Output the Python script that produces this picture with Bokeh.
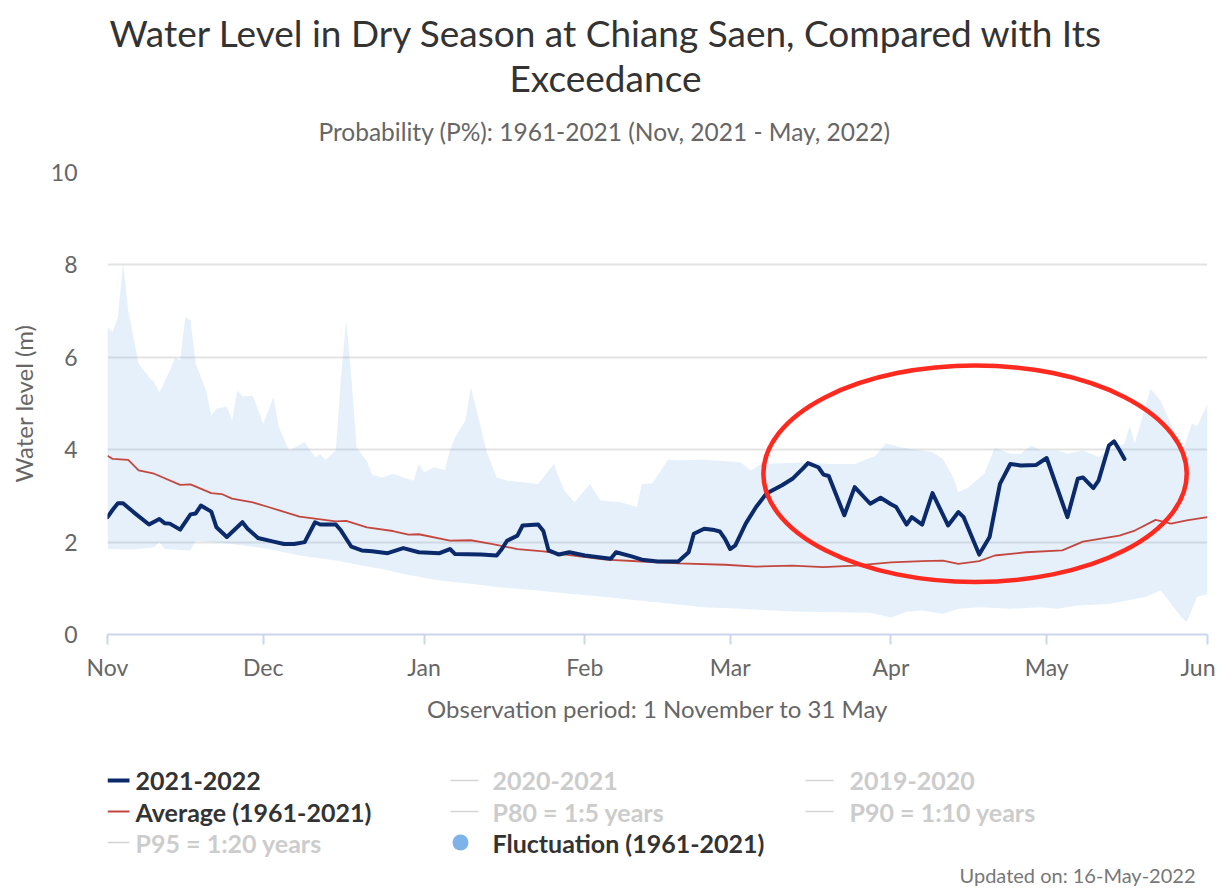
import pandas as pd
from bokeh.plotting import figure
from bokeh.models import Range1d, FixedTicker, DatetimeTickFormatter
from bokeh.layouts import column
from bokeh.core.properties import value
from bokeh.embed import file_html
from bokeh.resources import INLINE

# ---------------- data (days counted from 1 Nov 2021) ----------------
season_start = "2021-11-01"

obs_day = [0, 1, 2, 3, 5, 8, 10, 11, 12, 14, 16, 17, 18, 20, 21, 23, 26, 27, 29, 32,
           34, 36, 38, 40, 41, 44, 45, 47, 49, 51, 54, 57, 60, 64, 66, 67, 72, 75, 76, 77,
           79, 80, 83, 84, 85, 87, 89, 92, 97, 98, 101, 103, 106, 110, 112, 113, 115, 117, 118, 119,
           120, 121, 123, 125, 127, 130, 132, 134, 135, 137, 138, 139, 142, 144, 147, 149, 151, 152, 154, 155,
           157, 159, 162, 164, 165, 168, 170, 172, 174, 176, 179, 181, 185, 187, 188, 190, 191, 193, 194, 195,
           196]
obs_level = [2.54, 2.70, 2.84, 2.84, 2.65, 2.38, 2.50, 2.41, 2.40, 2.27, 2.60, 2.62, 2.79, 2.66, 2.32, 2.11, 2.43, 2.29, 2.09, 2.01,
             1.96, 1.96, 2.00, 2.43, 2.38, 2.38, 2.25, 1.90, 1.82, 1.80, 1.76, 1.87, 1.78, 1.76, 1.85, 1.74, 1.73, 1.71, 1.85, 2.03,
             2.14, 2.36, 2.38, 2.24, 1.82, 1.73, 1.78, 1.71, 1.64, 1.78, 1.69, 1.62, 1.58, 1.58, 1.78, 2.18, 2.29, 2.26, 2.23, 2.07,
             1.85, 1.93, 2.40, 2.76, 3.05, 3.23, 3.37, 3.59, 3.71, 3.62, 3.46, 3.43, 2.58, 3.19, 2.83, 2.96, 2.82, 2.76, 2.38, 2.54,
             2.38, 3.06, 2.36, 2.65, 2.54, 1.73, 2.11, 3.26, 3.69, 3.66, 3.67, 3.82, 2.54, 3.37, 3.40, 3.17, 3.33, 4.09, 4.18, 4.00,
             3.80]

avg_day = [0, 1, 4, 6, 9, 14, 16, 20, 22, 24, 28, 31, 37, 44, 46, 50, 55, 58, 60, 66,
           70, 74, 79, 84, 89, 96, 103, 110, 119, 125, 132, 138, 144, 151, 157, 161, 164, 168, 171, 177,
           184, 188, 195, 198, 202, 205, 208, 212]
avg_level = [3.87, 3.80, 3.78, 3.55, 3.48, 3.24, 3.25, 3.06, 3.04, 2.94, 2.86, 2.76, 2.55, 2.45, 2.46, 2.32, 2.24, 2.16, 2.17, 2.03,
             2.04, 1.96, 1.85, 1.80, 1.72, 1.62, 1.58, 1.54, 1.51, 1.47, 1.49, 1.46, 1.49, 1.56, 1.59, 1.60, 1.53, 1.59, 1.71, 1.78,
             1.82, 2.01, 2.14, 2.25, 2.48, 2.40, 2.47, 2.54]

fluct_max_day = [0, 1, 2, 3, 4, 6, 8, 9, 10, 12, 13, 14, 15, 16, 17, 19, 20, 21, 23, 24,
                 25, 26, 28, 30, 32, 33, 35, 38, 40, 41, 42, 44, 45, 46, 47, 48, 50, 51, 53, 55,
                 59, 60, 61, 63, 65, 66, 67, 69, 70, 71, 73, 75, 77, 83, 86, 88, 90, 93, 95, 99,
                 102, 103, 105, 108, 110, 115, 122, 124, 126, 135, 139, 144, 148, 150, 153, 157, 159, 161, 163, 164,
                 166, 169, 171, 174, 176, 178, 180, 183, 185, 188, 191, 193, 196, 197, 198, 201, 203, 206, 207, 209,
                 210, 212]
fluct_max = [6.65, 6.54, 6.87, 8.06, 7.01, 5.86, 5.57, 5.46, 5.24, 5.71, 6.00, 5.93, 6.87, 6.80, 5.86, 5.28, 4.74, 4.89, 4.93, 4.63,
             5.28, 5.15, 5.17, 4.56, 5.14, 4.49, 3.98, 4.16, 3.84, 3.90, 3.78, 3.98, 5.57, 6.80, 5.57, 4.05, 3.75, 3.45, 3.40, 3.48,
             3.33, 3.69, 3.51, 3.62, 3.55, 3.98, 4.27, 4.63, 5.35, 4.92, 3.98, 3.40, 3.33, 3.26, 3.69, 3.12, 2.86, 3.26, 2.90, 2.86,
             2.76, 3.26, 3.27, 3.78, 3.77, 3.78, 3.73, 3.55, 3.69, 3.73, 3.69, 3.69, 3.87, 4.14, 4.05, 3.98, 3.95, 3.80, 3.40, 3.08,
             3.19, 3.48, 4.05, 3.91, 3.91, 4.09, 3.98, 3.98, 3.91, 3.98, 3.84, 3.98, 4.13, 4.52, 4.13, 5.32, 5.06, 4.27, 3.91, 4.56,
             4.50, 4.99]

fluct_min_day = [0, 5, 9, 10, 11, 16, 17, 20, 24, 31, 37, 44, 50, 53, 57, 64, 70, 76, 83, 89,
                 96, 102, 109, 115, 122, 128, 134, 141, 147, 151, 154, 157, 161, 164, 168, 174, 180, 183, 187, 193,
                 200, 203, 205, 207, 208, 210, 212]
fluct_min = [1.85, 1.84, 1.89, 2.00, 1.85, 1.82, 2.03, 2.00, 1.96, 1.85, 1.71, 1.60, 1.47, 1.42, 1.31, 1.17, 1.10, 1.02, 0.95, 0.88,
             0.81, 0.74, 0.66, 0.59, 0.56, 0.52, 0.49, 0.48, 0.47, 0.37, 0.49, 0.52, 0.45, 0.56, 0.59, 0.56, 0.59, 0.56, 0.63, 0.66,
             0.81, 0.95, 0.66, 0.37, 0.27, 0.81, 0.88]

month_starts = ["2021-11-01", "2021-12-01", "2022-01-01", "2022-02-01", "2022-03-01",
                "2022-04-01", "2022-05-01", "2022-06-01"]
y_ticks = [0, 2, 4, 6, 8, 10]

title_lines = ["Water Level in Dry Season at Chiang Saen, Compared with Its", "Exceedance"]
subtitle = "Probability (P%): 1961-2021 (Nov, 2021 - May, 2022)"
x_title = "Observation period: 1 November to 31 May"
y_title = "Water level (m)"
updated_note = "Updated on: 16-May-2022"

legend_labels = ["2021-2022", "2020-2021", "2019-2020",
                 "Average (1961-2021)", "P80 = 1:5 years", "P90 = 1:10 years",
                 "P95 = 1:20 years", "Fluctuation (1961-2021)"]
legend_visible = [True, False, False, True, False, False, False, True]

# highlighted period (red ellipse): centre day, width in days, centre level, height in m
hl_center_day, hl_width_days, hl_center_level, hl_height = 167.2, 81.6, 3.48, 4.69

# ---------------- helpers ----------------
t0 = pd.Timestamp(season_start)
def to_dates(days):
    return [t0 + pd.Timedelta(days=d) for d in days]

FONT_NAME = "Lato"
FONT = value(FONT_NAME)
NAVY = "#0b2a6b"
RED = "#c4473f"
BAND = "#7cb5ec"
W = 1215
FL, FR = 107, 1207          # frame left / right in page pixels (shared by all strips)

def strip(height):
    # pixel-space strip whose frame matches the chart frame, so x data == page pixels
    f = figure(width=W, height=height, x_range=Range1d(FL, FR), y_range=Range1d(height, 0),
               x_axis_type=None, y_axis_type=None, output_backend="svg", toolbar_location=None,
               title_location=None, min_border_left=FL, min_border_right=W - FR,
               min_border_top=0, min_border_bottom=0)
    f.outline_line_color = None
    f.xgrid.visible = False
    f.ygrid.visible = False
    return f

# ---------------- title strip ----------------
TH = 152
tt = strip(TH)
tt.text([606, 605], [32, 77], text=title_lines, text_font=FONT, text_font_size="37px",
        text_baseline="middle", text_align="center", text_color="#333333")
tt.text([604], [131], text=[subtitle], text_font=FONT, text_font_size="24.5px",
        text_baseline="middle", text_align="center", text_color="#666666")

# ---------------- main chart ----------------
MH = 581
p = figure(width=W, height=MH, x_axis_type="datetime",
           x_range=Range1d(pd.Timestamp(month_starts[0]), pd.Timestamp(month_starts[-1])),
           y_range=Range1d(0, 10), output_backend="svg", toolbar_location=None,
           title_location=None,
           min_border_left=FL, min_border_right=W - FR, min_border_top=20, min_border_bottom=99)
p.outline_line_color = None

# fluctuation band
bx = to_dates(fluct_max_day) + to_dates(fluct_min_day)[::-1]
by = fluct_max + fluct_min[::-1]
p.patch(bx, by, fill_color=BAND, fill_alpha=0.2, line_color=None)

p.line(to_dates(avg_day), avg_level, line_color=RED, line_width=1.8)
p.line(to_dates(obs_day), obs_level, line_color=NAVY, line_width=4, line_join="round", line_cap="round")

ms_day = 24 * 3600 * 1000
p.ellipse(x=[t0 + pd.Timedelta(days=hl_center_day)], y=[hl_center_level],
          width=[hl_width_days * ms_day], height=[hl_height],
          fill_color=None, line_color="#ff2a1f", line_width=4.5)

# axes
p.xaxis.ticker = FixedTicker(ticks=[pd.Timestamp(m).value / 1e6 for m in month_starts])
p.xaxis.formatter = DatetimeTickFormatter(months="%b", days="%b", years="%b", hours="%b")
p.xaxis.minor_tick_line_color = None
p.xaxis.axis_line_color = "#ccd6eb"
p.xaxis.axis_line_width = 2
p.xaxis.major_tick_line_color = "#ccd6eb"
p.xaxis.major_tick_line_width = 2
p.xaxis.major_tick_out = 10
p.xaxis.major_tick_in = 0
p.xaxis.major_label_standoff = 8
p.xaxis.major_label_text_font = FONT_NAME
p.xaxis.major_label_text_font_size = "23px"
p.xaxis.major_label_text_color = "#666666"
p.xaxis.axis_label = x_title
p.xaxis.axis_label_text_font = FONT_NAME
p.xaxis.axis_label_text_font_size = "24px"
p.xaxis.axis_label_text_font_style = "normal"
p.xaxis.axis_label_text_color = "#666666"
p.xaxis.axis_label_standoff = 10

p.yaxis.ticker = FixedTicker(ticks=y_ticks)
p.yaxis.axis_line_color = None
p.yaxis.major_tick_line_color = None
p.yaxis.minor_tick_line_color = None
p.yaxis.major_tick_in = 0
p.yaxis.major_tick_out = 0
p.yaxis.major_label_standoff = 30
p.yaxis.major_label_text_font = FONT_NAME
p.yaxis.major_label_text_font_size = "23px"
p.yaxis.major_label_text_color = "#666666"
p.yaxis.axis_label = y_title
p.yaxis.axis_label_text_font = FONT_NAME
p.yaxis.axis_label_text_font_size = "24px"
p.yaxis.axis_label_text_font_style = "normal"
p.yaxis.axis_label_text_color = "#666666"
p.yaxis.axis_label_standoff = 10

p.xgrid.grid_line_color = None
p.ygrid.ticker = FixedTicker(ticks=y_ticks)
p.ygrid.grid_line_color = "#e3e3e3"
p.ygrid.grid_line_width = 2

# ---------------- legend strip ----------------
LH = 157
lg = strip(LH)

sym_x0 = [FL, 450, 805]
sym_x1 = [129, 478, 833]
row_y = [47, 78, 109]
text_x = [135, 492, 849]

for i, (lab, vis) in enumerate(zip(legend_labels, legend_visible)):
    r, c = divmod(i, 3)
    x0, x1, yc = sym_x0[c], sym_x1[c], row_y[r]
    if lab.startswith("Fluctuation"):
        lg.scatter([x0 + 10], [yc], size=16, marker="circle", fill_color="#7db3e8", line_color=None)
    elif lab == "2021-2022":
        lg.segment([x0], [yc], [x1], [yc], line_color=NAVY, line_width=4)
    elif lab.startswith("Average"):
        lg.segment([x0], [yc], [x1], [yc], line_color=RED, line_width=2)
    else:
        lg.segment([x0], [yc], [x1], [yc], line_color="#d4d4d4", line_width=1.5)
    lg.text([text_x[c]], [yc], text=[lab], text_font=FONT, text_font_size="25px",
            text_font_style="bold", text_baseline="middle", text_align="left",
            text_color="#333333" if vis else "#cccccc")

lg.text([1195], [141], text=[updated_note], text_font=FONT, text_font_size="20px",
        text_baseline="middle", text_align="right", text_color="#777777")

layout = column(tt, p, lg, spacing=0)
open("out.html", "w").write(file_html(layout, INLINE))
